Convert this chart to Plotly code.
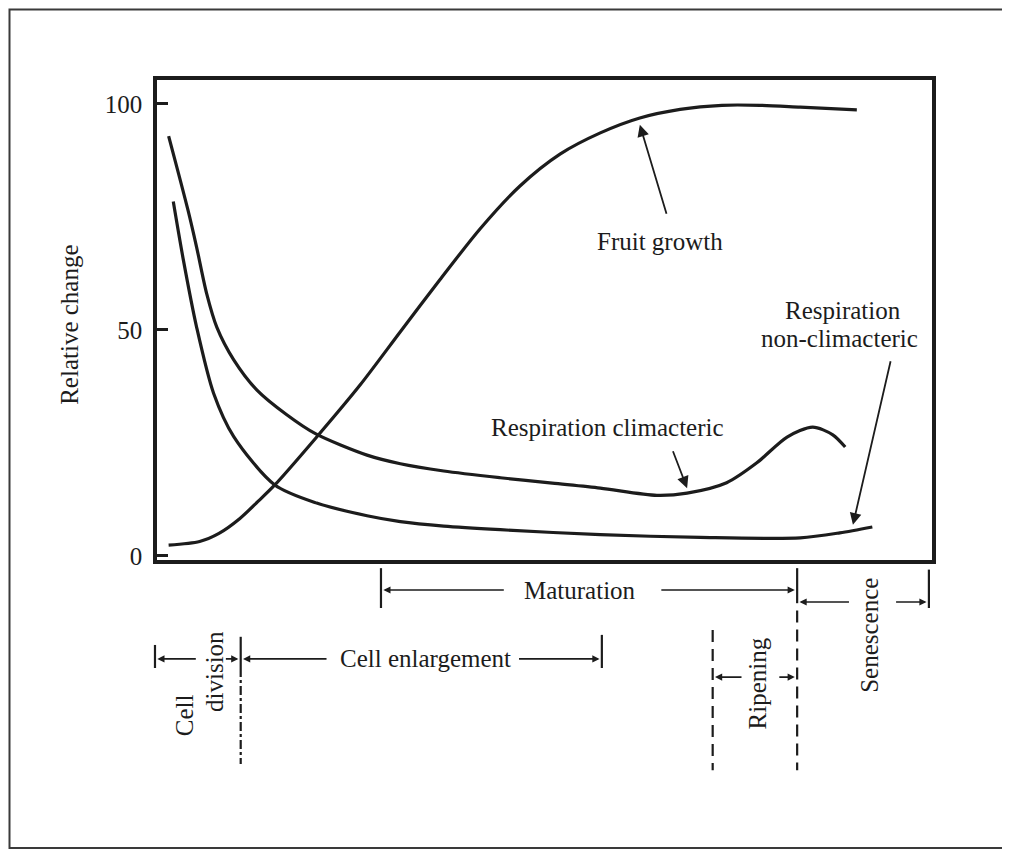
import plotly.graph_objects as go

# time axis runs 0..100 (relative development time), y is relative change
fruit_x = [1.5, 5.5, 8.0, 10.7, 13.0, 15.2, 20.5, 26.2, 31.4, 36.5, 41.7, 46.8, 52.0,
           57.2, 62.3, 67.5, 72.9, 77.8, 83.0, 90.3]
fruit_y = [2.4, 3.2, 5.0, 8.3, 12.0, 15.7, 26.1, 37.8, 49.6, 61.1, 72.4, 81.8, 88.9,
           93.6, 96.9, 98.8, 99.7, 99.7, 99.3, 98.7]

clim_x = [1.5, 4.0, 5.1, 6.4, 7.7, 9.9, 12.9, 16.7, 20.5, 27.1, 31.4, 37.0, 44.3,
          51.0, 57.2, 64.5, 68.4, 73.5, 77.4, 81.3, 84.6, 87.2, 88.8]
clim_y = [92.9, 76.5, 68.4, 58.1, 50.7, 43.4, 36.7, 31.3, 27.0, 22.3, 20.4, 18.8, 17.3,
          16.1, 15.0, 13.4, 13.9, 16.2, 20.6, 26.3, 28.5, 26.8, 24.1]

nonclim_x = [2.1, 3.4, 5.1, 7.3, 9.9, 15.2, 20.6, 27.1, 31.4, 37.0, 44.3, 57.2, 70.1,
             83.0, 88.1, 92.3]
nonclim_y = [78.4, 65.5, 50.7, 36.0, 26.4, 15.7, 11.7, 8.9, 7.6, 6.6, 5.8, 4.7, 4.1,
             4.0, 5.1, 6.4]

tick_vals = [0, 50, 100]
tick_text = ["0", "50", "100"]

# development phases (same time units as the x axis)
cell_div_start = -0.26
cell_enl_start = 10.8
cell_enl_end = 57.4
maturation_start = 28.9
ripening_start = 71.7
senescence_start = 82.6
senescence_end = 99.6

X0, X1 = 0, 100
Y0, Y1 = -0.9, 105.3
W, H = 1002, 844          # page body adds an 8px offset
ML, MT, PXW, PXH = 149, 72, 775, 480
FONT = "Liberation Serif"
INK = "#1c1c1c"


def xp(u):
    return (u - X0) / (X1 - X0)


fig = go.Figure()
for xs, ys in [(fruit_x, fruit_y), (clim_x, clim_y), (nonclim_x, nonclim_y)]:
    fig.add_trace(go.Scatter(x=xs, y=ys, mode="lines",
                             line=dict(color=INK, width=3.2, shape="spline", smoothing=0.8),
                             hoverinfo="skip"))

ann = []
shapes = []


def text(x, y, s, xref="x", yref="y", angle=0):
    ann.append(dict(x=x, y=y, xref=xref, yref=yref, text=s, showarrow=False,
                    xanchor="center", yanchor="middle", textangle=angle,
                    font=dict(family=FONT, size=25, color=INK)))


def data_arrow(tip, tail):
    ann.append(dict(x=tip[0], y=tip[1], ax=tail[0], ay=tail[1], xref="x", yref="y",
                    axref="x", ayref="y", text="", showarrow=True, arrowhead=2,
                    arrowsize=1.3, arrowwidth=1.8, arrowcolor=INK))


def phase_arrow(x, y, off):
    ann.append(dict(x=xp(x), y=y, xref="paper", yref="paper", ax=off, ay=0,
                    text="", showarrow=True, arrowhead=2, arrowsize=0.9,
                    arrowwidth=1.6, arrowcolor=INK))


def vline(x, y0, y1, dash="solid", w=2.2):
    shapes.append(dict(type="line", xref="paper", yref="paper", x0=xp(x), x1=xp(x),
                       y0=y0, y1=y1, line=dict(color=INK, width=w, dash=dash)))


# curve labels
text(64.9, 69.5, "Fruit growth")
data_arrow((62.3, 95.4), (65.8, 75.4))
text(58.1, 28.5, "Respiration climacteric")
data_arrow((68.4, 15.0), (66.5, 23.5))
text(88.5, 54.2, "Respiration")
text(88.0, 48.2, "non-climacteric")
data_arrow((89.8, 6.9), (94.7, 43.4))

# y title
text(-87 / PXW, 0.49, "Relative change", xref="paper", yref="paper", angle=-90)

# phase rows (paper y below the plot)
mat_row = -0.0625
sen_row = -0.0875
cell_row = -0.206
rip_row = -0.244

vline(maturation_start, -0.017, -0.10)
phase_arrow(maturation_start + 0.3, mat_row, 122)
text(xp(54.6), mat_row, "Maturation", xref="paper", yref="paper")
phase_arrow(senescence_start - 0.3, mat_row, -135)

vline(senescence_start, -0.017, -0.09)
vline(senescence_start, -0.105, -0.438, dash="12px,7px")
phase_arrow(senescence_start + 0.3, sen_row, 51)
phase_arrow(senescence_end - 0.3, sen_row, -32)
vline(senescence_end, -0.02, -0.10)
text(xp(92.0), -0.158, "Senescence", xref="paper", yref="paper", angle=-90)

vline(cell_div_start, -0.177, -0.225)
phase_arrow(cell_div_start + 0.3, cell_row, 40)
phase_arrow(cell_enl_start - 0.3, cell_row, -14)
text(xp(3.5), -0.323, "Cell", xref="paper", yref="paper", angle=-90)
text(xp(7.5), -0.233, "division", xref="paper", yref="paper", angle=-90)

vline(cell_enl_start, -0.160, -0.225)
vline(cell_enl_start, -0.225, -0.425, dash="dashdot")
phase_arrow(cell_enl_start + 0.3, cell_row, 85)
text(xp(34.6), cell_row, "Cell enlargement", xref="paper", yref="paper")
phase_arrow(cell_enl_end - 0.3, cell_row, -82)
vline(cell_enl_end, -0.156, -0.225)

vline(ripening_start, -0.146, -0.438, dash="12px,7px")
phase_arrow(ripening_start + 0.3, rip_row, 28)
phase_arrow(senescence_start - 0.3, rip_row, -17)
text(xp(77.5), -0.258, "Ripening", xref="paper", yref="paper", angle=-90)

# outer frame, just inside the figure edges
shapes.append(dict(type="rect", xref="paper", yref="paper",
                   x0=(1.5 - ML) / PXW, x1=(W - 4 - ML) / PXW,
                   y0=(MT + PXH - (H - 4)) / PXH, y1=(MT + PXH - 1.5) / PXH,
                   line=dict(color="#3a3a3a", width=2)))

fig.update_layout(
    width=W, height=H,
    margin=dict(l=ML, r=W - ML - PXW, t=MT, b=H - MT - PXH),
    paper_bgcolor="white", plot_bgcolor="white",
    showlegend=False,
    annotations=ann, shapes=shapes,
    xaxis=dict(range=[X0, X1], showgrid=False, zeroline=False, showticklabels=False,
               ticks="", showline=True, linecolor=INK, linewidth=3.5, mirror=True),
    yaxis=dict(range=[Y0, Y1], showgrid=False, zeroline=False, tickvals=tick_vals,
               ticktext=tick_text, ticks="inside", ticklen=11, tickwidth=3,
               tickcolor=INK, ticklabelstandoff=6,
               tickfont=dict(family=FONT, size=25, color=INK),
               showline=True, linecolor=INK, linewidth=3.5, mirror=True),
)

fig.write_html("out.html")
